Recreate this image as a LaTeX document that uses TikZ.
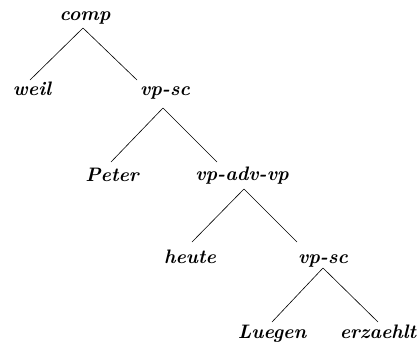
\documentclass[tikz,border=0pt]{standalone}
\begin{document}
\begin{tikzpicture}[x=1pt,y=-1pt,
  lab/.style={anchor=base,inner sep=0pt,font=\fontsize{19.5}{22}\selectfont\bfseries\itshape},
  edge/.style={line width=0.6pt}]
\useasboundingbox (0,0) rectangle (418,349);
\node[lab] (comp) at (85,20) {comp};
\node[lab] (weil) at (32,95) {weil};
\node[lab] (vpsc1) at (165,95) {vp-sc};
\node[lab] (peter) at (112,181) {Peter};
\node[lab] (vpadv) at (242,180) {vp-adv-vp};
\node[lab] (heute) at (190,263) {heute};
\node[lab] (vpsc2) at (323,263) {vp-sc};
\node[lab] (luegen) at (272,338) {Luegen};
\node[lab] (erz) at (378,338) {erzaehlt};
\draw[edge] ([xshift=-2pt,yshift=-8pt]comp.base) -- ([xshift=-2pt,yshift=15pt]weil.base);
\draw[edge] ([xshift=-2pt,yshift=-8pt]comp.base) -- ([xshift=-28pt,yshift=15pt]vpsc1.base);
\draw[edge] ([xshift=-2pt,yshift=-13pt]vpsc1.base) -- ([xshift=-1pt,yshift=19pt]peter.base);
\draw[edge] ([xshift=-2pt,yshift=-13pt]vpsc1.base) -- ([xshift=-25pt,yshift=18pt]vpadv.base);
\draw[edge] ([xshift=2pt,yshift=-9pt]vpadv.base) -- ([xshift=2pt,yshift=21pt]heute.base);
\draw[edge] ([xshift=2pt,yshift=-9pt]vpadv.base) -- ([xshift=-26pt,yshift=21pt]vpsc2.base);
\draw[edge] ([yshift=-5pt]vpsc2.base) -- ([yshift=16pt]luegen.base);
\draw[edge] ([yshift=-5pt]vpsc2.base) -- ([yshift=16pt]erz.base);
\end{tikzpicture}
\end{document}
